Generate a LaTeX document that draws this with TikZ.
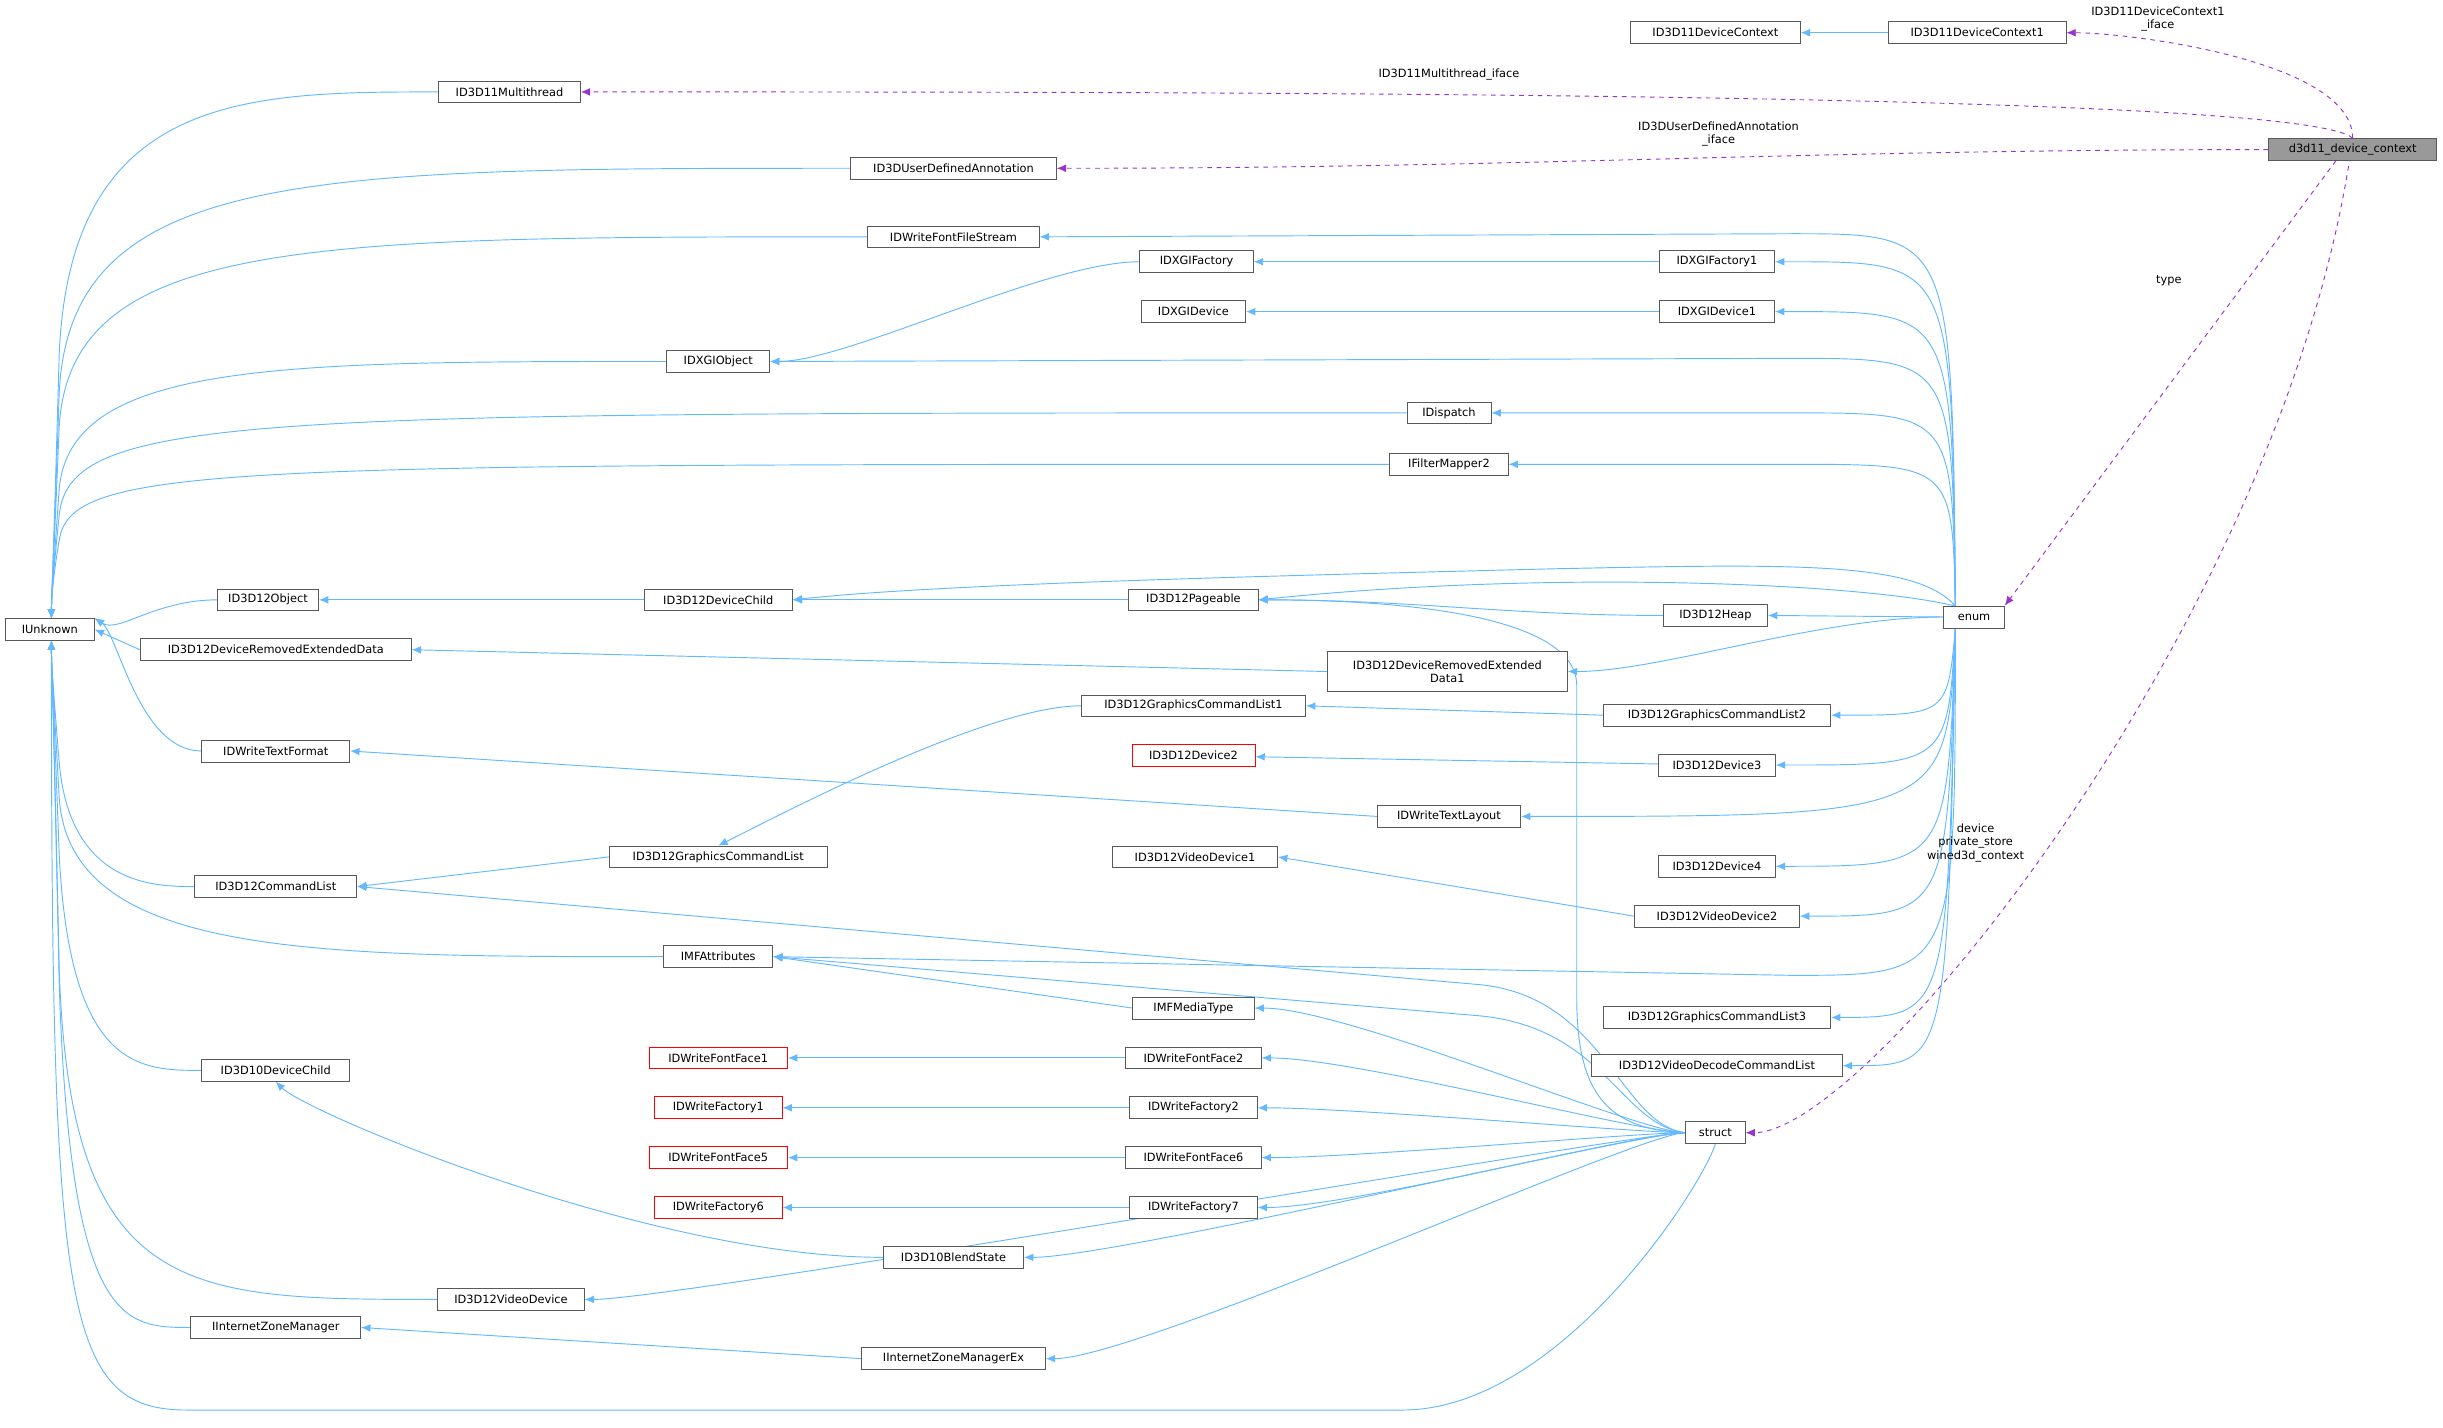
\documentclass[tikz,border=0pt]{standalone}
\usepackage{fontspec}
\setmainfont{DejaVu Sans}
\usetikzlibrary{arrows.meta}
\definecolor{eb}{RGB}{99,184,255}
\definecolor{pp}{RGB}{154,50,205}
\pgfdeclarelayer{bg}
\pgfsetlayers{bg,main}
\begin{document}
\begin{tikzpicture}[x=1pt,y=-1pt,
 b/.style={draw=black!65,fill=white,minimum height=14,inner sep=1pt,font=\fontsize{7.3}{8.5}\selectfont,line width=0.5pt},
 r/.style={b,draw=red},
 e/.style={draw=eb,line width=0.6pt,-{Latex[length=6,width=5]}},
 p/.style={draw=pp,dashed,line width=0.6pt,-{Latex[length=6,width=5]}},
 l/.style={font=\fontsize{7.3}{8.5}\selectfont,align=center,inner sep=0}]
\useasboundingbox (0,0) rectangle (1568,916.5);
\node[b,fill=black!40,minimum width=108] (ctx) at (1510,96) {d3d11\_device\_context};
\node[b,minimum width=109] (dc) at (1101,21) {ID3D11DeviceContext};
\node[b,minimum width=114] (dc1) at (1269,21) {ID3D11DeviceContext1};
\node[b,minimum width=91] (mt) at (327,59) {ID3D11Multithread};
\node[b,minimum width=132] (uda) at (612,108) {ID3DUserDefinedAnnotation};
\node[b,minimum width=110] (ffs) at (612,152) {IDWriteFontFileStream};
\node[b,minimum width=73] (xf) at (768,168) {IDXGIFactory};
\node[b,minimum width=74] (xf1) at (1102,168) {IDXGIFactory1};
\node[b,minimum width=67] (xd) at (766,200) {IDXGIDevice};
\node[b,minimum width=74] (xd1) at (1102,200) {IDXGIDevice1};
\node[b,minimum width=66] (xo) at (461,232) {IDXGIObject};
\node[b,minimum width=54] (disp) at (930,265) {IDispatch};
\node[b,minimum width=76] (fm) at (930,298) {IFilterMapper2};
\node[b,minimum width=39] (enum) at (1267,396) {enum};
\node[b,minimum width=65] (obj) at (172,385) {ID3D12Object};
\node[b,minimum width=95] (dch) at (461,385) {ID3D12DeviceChild};
\node[b,minimum width=83] (pg) at (766,385) {ID3D12Pageable};
\node[b,minimum width=67] (heap) at (1101,395) {ID3D12Heap};
\node[b,minimum width=57] (iu) at (32,404) {IUnknown};
\node[b,minimum width=174] (dred) at (177,417) {ID3D12DeviceRemovedExtendedData};
\node[b,minimum width=154,minimum height=26,align=center] (dred1) at (929,431) {ID3D12DeviceRemovedExtended\\Data1};
\node[b,minimum width=144] (gcl1) at (766,453) {ID3D12GraphicsCommandList1};
\node[b,minimum width=146] (gcl2) at (1102,459) {ID3D12GraphicsCommandList2};
\node[r,minimum width=79] (d2) at (766,485) {ID3D12Device2};
\node[b,minimum width=75] (d3) at (1102,491) {ID3D12Device3};
\node[b,minimum width=95] (tf) at (177,482) {IDWriteTextFormat};
\node[b,minimum width=92] (tl) at (930,524) {IDWriteTextLayout};
\node[b,minimum width=140] (gcl) at (461,550) {ID3D12GraphicsCommandList};
\node[b,minimum width=106] (vd1) at (767,550) {ID3D12VideoDevice1};
\node[b,minimum width=75] (d4) at (1102,556) {ID3D12Device4};
\node[b,minimum width=104] (cl) at (177,569) {ID3D12CommandList};
\node[b,minimum width=106] (vd2) at (1102,588) {ID3D12VideoDevice2};
\node[b,minimum width=70] (mfa) at (461,614) {IMFAttributes};
\node[b,minimum width=78] (mft) at (766,647) {IMFMediaType};
\node[b,minimum width=146] (gcl3) at (1102,653) {ID3D12GraphicsCommandList3};
\node[b,minimum width=161] (vdcl) at (1102,684) {ID3D12VideoDecodeCommandList};
\node[b,minimum width=95] (d10c) at (177,687) {ID3D10DeviceChild};
\node[r,minimum width=89] (ff1) at (461,679) {IDWriteFontFace1};
\node[b,minimum width=87] (ff2) at (766,679) {IDWriteFontFace2};
\node[r,minimum width=82] (wf1) at (461,711) {IDWriteFactory1};
\node[b,minimum width=82] (wf2) at (766,711) {IDWriteFactory2};
\node[b,minimum width=38] (st) at (1101,727) {struct};
\node[r,minimum width=89] (ff5) at (461,743) {IDWriteFontFace5};
\node[b,minimum width=87] (ff6) at (766,743) {IDWriteFontFace6};
\node[r,minimum width=82] (wf6) at (461,775) {IDWriteFactory6};
\node[b,minimum width=82] (wf7) at (766,775) {IDWriteFactory7};
\node[b,minimum width=90] (bs) at (612,807) {ID3D10BlendState};
\node[b,minimum width=94] (vd) at (328,834) {ID3D12VideoDevice};
\node[b,minimum width=109] (izm) at (177,852) {IInternetZoneManager};
\node[b,minimum width=118] (izmx) at (612,872) {IInternetZoneManagerEx};
\node[l] at (1385,12) {ID3D11DeviceContext1\\\_iface};
\node[l] at (930,48) {ID3D11Multithread\_iface};
\node[l] at (1103,86) {ID3DUserDefinedAnnotation\\\_iface};
\node[l] at (1392,180) {type};
\node[l] at (1268,541) {device\\private\_store\\wined3d\_context};
\begin{pgfonlayer}{bg}
% purple
\draw[p] (ctx.north) .. controls +(0,-50) and +(40,0) .. (dc1.east);
\draw[p] (ctx.north) .. controls +(-30,-30) and +(400,0) .. (mt.east);
\draw[p] (ctx.west) .. controls +(-300,0) and +(300,0) .. (uda.east);
\draw[p] (ctx.north) -- (enum.north east);
\draw[p] (ctx.north) .. controls +(-40,300) and +(80,0) .. (st.east);
% blue
\draw[e] (dc1) -- (dc);
\coordinate (iut) at (33,397);
\coordinate (iub) at (33,411);
\foreach \n/\y/\c in {mt/59/160,uda/108/200,ffs/152/200,xo/232/180,disp/265/160,fm/298/140}
  \draw[e] (\n.west) .. controls (\c,\y) and (45,\y) .. (38,\y/2+198) .. controls (34,370) and (33,385) .. (iut);
\foreach \n in {obj,tf} \draw[e] (\n.west) .. controls +(-40,0) and +(15,10) .. (iu.north east);
\draw[e] (dred.west) -- (iu.east);
\foreach \n/\y/\c in {cl/569/100,mfa/614/200,d10c/687/90,vd/834/120,izm/852/80}
  \draw[e] (\n.west) .. controls (\c,\y) and (45,\y) .. (38,\y/2+205) .. controls (34,440) and (33,425) .. (iub);
\draw[e] (st.south) .. controls +(-10,30) and +(100,0) .. (900,905) -- (120,905) .. controls (40,905) and (33,840) .. (iub);
\draw[e] (xf.west) .. controls +(-60,0) and +(50,0) .. (xo.east);
\draw[e] (xf1) -- (xf);
\draw[e] (xd1) -- (xd);
\draw[e] (dch) -- (obj);
\draw[e] (pg) -- (dch);
\draw[e] (heap.west) .. controls +(-100,0) and +(100,0) .. (pg.east);
\draw[e] (dred1.west) -- (dred.east);
\draw[e] (gcl1.west) .. controls +(-60,0) and +(40,-20) .. (gcl.north);
\draw[e] (gcl2.west) -- (gcl1.east);
\draw[e] (d3) -- (d2);
\draw[e] (tl.west) -- (tf.east);
\draw[e] (gcl.west) -- (cl.east);
\draw[e] (vd2.west) -- (vd1.east);
\draw[e] (mft.west) -- (mfa.east);
\draw[e] (ff2) -- (ff1);
\draw[e] (wf2) -- (wf1);
\draw[e] (ff6) -- (ff5);
\draw[e] (wf7) -- (wf6);
\draw[e] (bs.west) .. controls +(-150,0) and +(20,20) .. (d10c.south);
\draw[e] (izmx.west) -- (izm.east);
% enum edges
\coordinate (et) at (1255,389);
\coordinate (ebt) at (1255,403);
\foreach \n/\y in {ffs/150,xo/230,xf1/168,xd1/200,disp/265,fm/298} \draw[e] (et) .. controls (1253,\y) and (1253,\y) .. (1150,\y) -- (\n.east);
\draw[e] (et) .. controls (1230,360) and (1150,362) .. (1000,365) .. controls (800,370) and (600,375) .. (dch.east);
\draw[e] (et) .. controls (1200,375) and (1000,365) .. (pg.east);
\draw[e] (enum.west) -- (heap.east);
\draw[e] (enum.west) .. controls +(-80,0) and +(60,0) .. (dred1.east);
\foreach \n/\y in {gcl2/459,d3/491,tl/524,d4/556,vd2/588,gcl3/653,vdcl/684} \draw[e] (ebt) .. controls (1250,\y) and (1250,\y) .. (\n.east);
\draw[e] (ebt) .. controls (1255,626) and (1255,626) .. (1150,626) -- (mfa.east);
% struct edges
\draw[e] (st.west) .. controls (1030,725) and (1012,700) .. (1012,640) -- (1012,440) .. controls (1012,395) and (900,385) .. (pg.east);
\draw[e] (st.west) .. controls (1040,722) and (1030,640) .. (950,632) -- (cl.east);
\draw[e] (st.west) .. controls (1040,722) and (1030,660) .. (950,652) -- (mfa.east);
\foreach \n in {mft,ff2,wf2,ff6,wf7,bs,vd,izmx} \draw[e] (st.west) .. controls +(-30,0) and +(60,0) .. (\n.east);
\end{pgfonlayer}
\end{tikzpicture}
\end{document}
